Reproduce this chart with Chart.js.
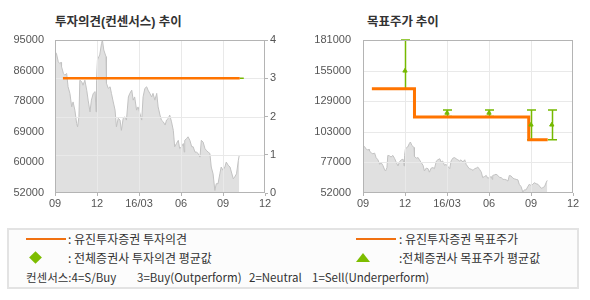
<!DOCTYPE html>
<html>
<head>
<meta charset="utf-8">
<script src="https://cdn.jsdelivr.net/npm/chart.js@4.4.1/dist/chart.umd.min.js"></script>
<style>
  html, body { margin:0; padding:0; background:#fff; }
  body { width:590px; height:300px; position:relative; overflow:hidden; font-family:"Noto Sans CJK KR","Noto Sans",sans-serif; }
  canvas { position:absolute; top:0; }
  .title { position:absolute; top:13px; font-weight:bold; font-size:12.5px; line-height:16px; color:#333; white-space:nowrap; }
  .title .p { font-family:"Liberation Sans",sans-serif; }
  .lt { position:absolute; font-size:12px; line-height:16px; color:#333; white-space:nowrap; }
  .lc { position:absolute; font-size:11.5px; line-height:16px; color:#333; white-space:nowrap; top:269px; }
</style>
</head>
<body>
<div class="title" style="left:55px;">투자의견<span class="p">(</span>컨센서스<span class="p">) </span>추이</div>
<div class="title" style="left:367px;">목표주가 추이</div>
<canvas id="cL" width="295" height="220" style="left:0;"></canvas>
<canvas id="cR" width="295" height="220" style="left:295px;"></canvas>

<div style="position:absolute;left:7px;top:228px;width:568px;height:57px;border:2px solid #e3e3e3;background:#fcfcfc;"></div>
<div style="position:absolute;left:26px;top:238px;width:40px;height:2px;background:#f07010;"></div>
<div class="lt" style="left:68px;top:231px;">: 유진투자증권 투자의견</div>
<div style="position:absolute;left:31px;top:253px;width:9px;height:9px;background:#7dbd00;transform:rotate(45deg);"></div>
<div class="lt" style="left:68px;top:250px;">: 전체증권사 투자의견 평균값</div>
<div style="position:absolute;left:356px;top:238px;width:40px;height:2px;background:#f07010;"></div>
<div class="lt" style="left:399px;top:231px;">: 유진투자증권 목표주가</div>
<div style="position:absolute;left:356px;top:253px;width:0;height:0;border-left:7px solid transparent;border-right:7px solid transparent;border-bottom:9px solid #7dbd00;"></div>
<div class="lt" style="left:399px;top:250px;">:전체증권사 목표주가 평균값</div>
<div class="lc" style="left:26px;">컨센서스:4=S/Buy</div>
<div class="lc" style="left:137px;">3=Buy(Outperform)</div>
<div class="lc" style="left:249px;">2=Neutral</div>
<div class="lc" style="left:312px;">1=Sell(Underperform)</div>

<script>
// ---------- DATA ----------
const xTickLabels = ['09', '12', '16/03', '06', '09', '12'];

const priceDates = [
 '2015-09-01','2015-09-04','2015-09-08','2015-09-11','2015-09-14','2015-09-15','2015-09-19','2015-09-22','2015-09-26','2015-09-29',
 '2015-10-03','2015-10-07','2015-10-10','2015-10-14','2015-10-18','2015-10-20','2015-10-23','2015-10-25','2015-10-29',
 '2015-11-01','2015-11-05','2015-11-09','2015-11-12','2015-11-16','2015-11-19','2015-11-23','2015-11-27','2015-11-29','2015-11-30',
 '2015-12-02','2015-12-05','2015-12-07','2015-12-11','2015-12-13','2015-12-16','2015-12-21','2015-12-22','2015-12-26','2015-12-30',
 '2016-01-02','2016-01-06','2016-01-10','2016-01-13','2016-01-17','2016-01-21','2016-01-24','2016-01-28',
 '2016-02-01','2016-02-04','2016-02-08','2016-02-11','2016-02-15','2016-02-18','2016-02-21','2016-02-25','2016-02-28',
 '2016-03-03','2016-03-07','2016-03-10','2016-03-14','2016-03-18','2016-03-21','2016-03-25','2016-03-29',
 '2016-04-01','2016-04-05','2016-04-09','2016-04-12','2016-04-16','2016-04-19','2016-04-23','2016-04-27','2016-04-30',
 '2016-05-04','2016-05-07','2016-05-11','2016-05-15','2016-05-18','2016-05-22','2016-05-26','2016-05-29',
 '2016-06-02','2016-06-06','2016-06-08','2016-06-09','2016-06-13','2016-06-16','2016-06-20','2016-06-24','2016-06-27',
 '2016-07-01','2016-07-04','2016-07-08','2016-07-12','2016-07-15','2016-07-19','2016-07-23','2016-07-26','2016-07-30',
 '2016-08-03','2016-08-06','2016-08-10','2016-08-14','2016-08-17','2016-08-21','2016-08-25','2016-08-28',
 '2016-09-01','2016-09-05','2016-09-08','2016-09-12','2016-09-16','2016-09-19','2016-09-23','2016-09-26','2016-09-30',
 '2016-10-04','2016-10-06'
];
const priceValues = [
 91700,91250,88900,88400,88700,87500,85600,85100,85600,81850,
 80000,76200,77600,75300,71500,70600,73400,83700,83300,
 82300,83700,80900,78100,74800,78100,80000,80500,74800,83700,
 89400,90300,90800,94000,95000,92200,90300,82800,81400,81850,
 80000,77600,75300,70600,73000,72500,69600,73000,
 73400,72500,79000,80000,80900,78100,79000,75300,76200,
 74400,72500,79000,81400,81850,80900,80000,79000,
 80000,78100,80000,76200,73900,72500,72000,71100,72500,
 73000,73900,72000,69600,65000,65900,66800,64500,
 65000,65900,63500,66800,67300,67800,66800,65000,65000,
 63500,63500,63100,62100,66800,66300,64500,64000,63500,
 63100,59300,57400,52700,54600,54600,57400,59300,
 58400,59300,60700,59800,59300,57900,56000,56500,57400,
 61200,62600
];

// 투자의견 (right axis 0-4)
const opinionDates = ['2015-09-18', '2016-10-07'];
const opinionValues = [3, 3];
const consensusOpinionDates = ['2016-10-07', '2016-10-16'];
const consensusOpinionValues = [3, 3];
const priceTickLabelsL = ['52000', '60000', '69000', '78000', '86000', '95000'];

// 목표주가
const targetDates = ['2015-09-20', '2015-12-22', '2016-08-27', '2016-10-07'];
const targetValues = [140000, 116000, 97000, 97000];
const consTargetDates = ['2015-12-01', '2016-03-01', '2016-06-01', '2016-09-01', '2016-10-16'];
const consTargetMean = [155000, 119500, 119500, 109500, 109500];
const consTargetHigh = [181000, 122000, 122000, 122000, 122000];
const consTargetLow  = [140000, 116500, 116500, 97000, 97000];
const priceTickLabelsR = ['52000', '77000', '103000', '129000', '155000', '181000'];

// ---------- HELPERS ----------
function toMonth(s) {
  const [y, m, d] = s.split('-').map(Number);
  const dim = new Date(y, m, 0).getDate();
  return (y - 2015) * 12 + (m - 9) + (d - 1) / dim;
}
function pts(dates, vals) { return dates.map((d, i) => ({ x: toMonth(d), y: vals[i] })); }

const ORANGE = '#ff7400';
const GREEN = '#76b900';
const tickFont = { family: 'Liberation Sans', size: 11 };
const tickColor = '#555';

// grid lines over the area fill + error bars, drawn after the first (area) dataset
const overlayPlugin = {
  id: 'overlay',
  afterDatasetDraw(chart, args, opts) {
    if (args.index !== 0) return;
    const ctx = chart.ctx, a = chart.chartArea;
    ctx.save();
    ctx.strokeStyle = '#e9e9e9';
    ctx.lineWidth = 1;
    const xs = chart.scales[opts.xScale];
    xs.ticks.forEach(t => {
      if (t.value <= xs.min || t.value >= xs.max) return;
      const px = Math.round(xs.getPixelForValue(t.value)) + 0.5;
      ctx.beginPath(); ctx.moveTo(px, a.top); ctx.lineTo(px, a.bottom); ctx.stroke();
    });
    const ys = chart.scales[opts.yScale];
    ys.ticks.forEach(t => {
      if (t.value <= ys.min || t.value >= ys.max) return;
      const py = Math.round(ys.getPixelForValue(t.value)) + 0.5;
      ctx.beginPath(); ctx.moveTo(a.left, py); ctx.lineTo(a.right, py); ctx.stroke();
    });
    if (opts.errorBars) {
      const eb = opts.errorBars;
      const ysE = chart.scales[eb.yScale];
      ctx.strokeStyle = GREEN;
      ctx.lineWidth = 1.5;
      eb.dates.forEach((d, i) => {
        const px = Math.round(xs.getPixelForValue(toMonth(d))) + 0.5;
        const ph = ysE.getPixelForValue(eb.high[i]);
        const pl = ysE.getPixelForValue(eb.low[i]);
        ctx.beginPath();
        ctx.moveTo(px, ph); ctx.lineTo(px, pl);
        ctx.moveTo(px - 4.5, ph); ctx.lineTo(px + 4.5, ph);
        ctx.moveTo(px - 4.5, pl); ctx.lineTo(px + 4.5, pl);
        ctx.stroke();
      });
    }
    ctx.restore();
  },
  afterDatasetsDraw(chart) {
    const ctx = chart.ctx, a = chart.chartArea;
    ctx.save();
    ctx.strokeStyle = '#b4b4b4';
    ctx.lineWidth = 1;
    ctx.strokeRect(Math.round(a.left) + 0.5, Math.round(a.top) + 0.5,
                   Math.round(a.right - a.left) - 1, Math.round(a.bottom - a.top) - 1);
    ctx.restore();
  }
};

const xScaleCfg = {
  type: 'linear', min: 0, max: 15,
  ticks: { stepSize: 3, autoSkip: false, maxRotation: 0, padding: 1, font: tickFont, color: tickColor,
           callback: (v) => xTickLabels[Math.round(v / 3)] },
  grid: { drawOnChartArea: false, drawTicks: true, tickLength: 3, color: '#b4b4b4' },
  border: { display: false },
  afterFit: s => { s.height = 27; }
};

// ---------- LEFT CHART ----------
new Chart(document.getElementById('cL'), {
  type: 'line',
  data: {
    datasets: [
      { data: pts(priceDates, priceValues), yAxisID: 'y', fill: 'start', backgroundColor: '#e0e0e0',
        borderColor: '#c2c2c2', borderWidth: 1, pointRadius: 0, tension: 0, order: 10 },
      { data: pts(opinionDates, opinionValues), yAxisID: 'y2', borderColor: ORANGE, borderWidth: 2.5,
        pointRadius: 0, fill: false, order: 1 },
      { data: pts(consensusOpinionDates, consensusOpinionValues), yAxisID: 'y2', borderColor: GREEN,
        borderWidth: 1.5, pointRadius: 0, fill: false, order: 2 }
    ]
  },
  options: {
    responsive: false, animation: false,
    layout: { padding: { top: 40, left: 0, right: 0, bottom: 0 } },
    plugins: { legend: { display: false }, tooltip: { enabled: false },
               overlay: { xScale: 'x', yScale: 'y2' } },
    scales: {
      x: xScaleCfg,
      y: { position: 'left', min: 52000, max: 95000,
           ticks: { stepSize: 8600, padding: 3, font: tickFont, color: tickColor,
                    callback: (v, i) => priceTickLabelsL[i] },
           grid: { display: false }, border: { display: false },
           afterFit: s => { s.width = 55; } },
      y2: { position: 'right', min: 0, max: 4,
            ticks: { stepSize: 1, padding: 2, font: tickFont, color: tickColor },
            grid: { drawOnChartArea: false, drawTicks: true, tickLength: 3, color: '#b4b4b4' },
            border: { display: false },
            afterFit: s => { s.width = 30; } }
    }
  },
  plugins: [overlayPlugin]
});

// ---------- RIGHT CHART ----------
new Chart(document.getElementById('cR'), {
  type: 'line',
  data: {
    datasets: [
      { data: pts(priceDates, priceValues), fill: 'start', backgroundColor: '#e0e0e0',
        borderColor: '#c2c2c2', borderWidth: 1, pointRadius: 0, tension: 0, order: 10 },
      { data: pts(targetDates, targetValues), borderColor: ORANGE, borderWidth: 3, stepped: true,
        pointRadius: 0, fill: false, order: 2 },
      { data: pts(consTargetDates, consTargetMean), showLine: false, pointStyle: 'triangle',
        pointRadius: 2.5, pointBackgroundColor: GREEN, pointBorderColor: GREEN, pointBorderWidth: 1, order: 1 }
    ]
  },
  options: {
    responsive: false, animation: false,
    layout: { padding: { top: 40, left: 0, right: 17, bottom: 0 } },
    plugins: { legend: { display: false }, tooltip: { enabled: false },
               overlay: { xScale: 'x', yScale: 'y',
                          errorBars: { yScale: 'y', dates: consTargetDates, high: consTargetHigh, low: consTargetLow } } },
    scales: {
      x: xScaleCfg,
      y: { position: 'left', min: 52000, max: 181000,
           ticks: { stepSize: 25800, padding: 4, font: tickFont, color: tickColor,
                    callback: (v, i) => priceTickLabelsR[i] },
           grid: { display: false }, border: { display: false },
           afterFit: s => { s.width = 68; } }
    }
  },
  plugins: [overlayPlugin]
});
</script>
</body>
</html>
